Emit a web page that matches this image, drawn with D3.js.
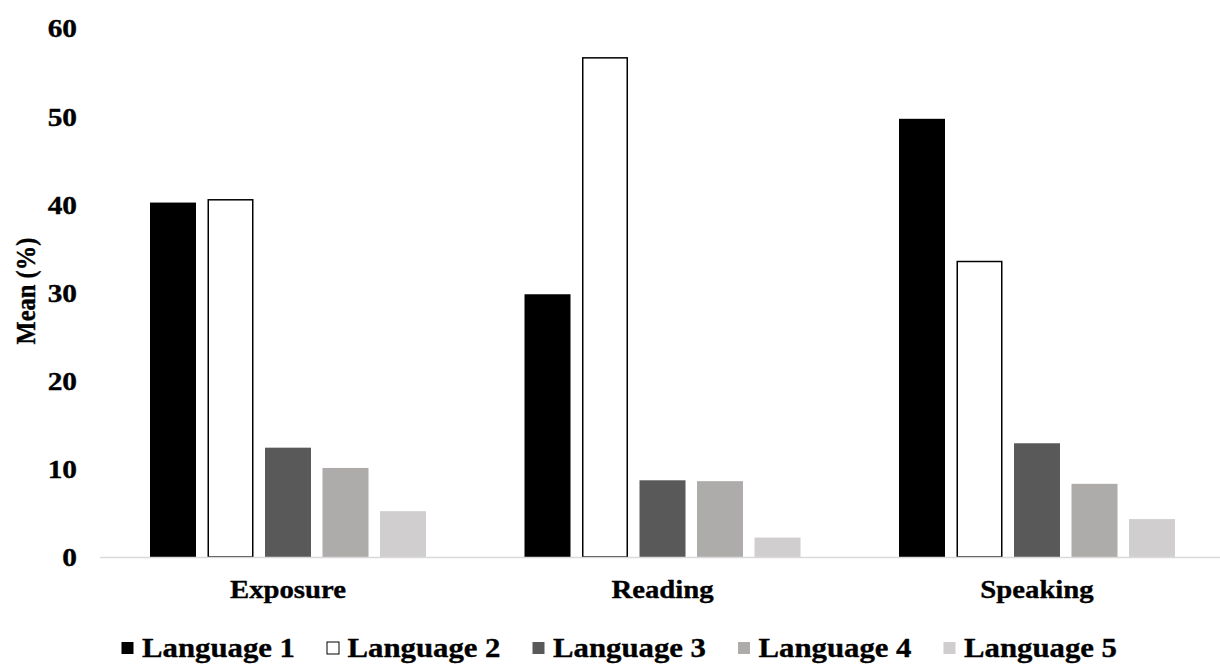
<!DOCTYPE html>
<html>
<head>
<meta charset="utf-8">
<script src="https://cdn.jsdelivr.net/npm/d3@7"></script>
<style>
  html, body { margin: 0; padding: 0; background: #fff; }
  svg { display: block; }
  text { font-family: "Liberation Serif", "Times New Roman", serif; font-weight: bold; fill: #000; stroke: #000; stroke-width: 0.35px; }
</style>
</head>
<body>
<svg id="chart" width="1220" height="664"></svg>
<script>
// Chart data
const categories = ["Exposure", "Reading", "Speaking"];
const seriesNames = ["Language 1", "Language 2", "Language 3", "Language 4", "Language 5"];
const language1 = [40.2, 29.8, 49.7];
const language2 = [40.6, 56.7, 33.6];
const language3 = [12.4, 8.7, 12.9];
const language4 = [10.1, 8.6, 8.3];
const language5 = [5.2, 2.2, 4.3];
const yTicks = [0, 10, 20, 30, 40, 50, 60];
const yLabel = "Mean (%)";

const seriesValues = [language1, language2, language3, language4, language5];
const fills = ["#000000", "#ffffff", "#595959", "#aeabab", "#d0cece"];
const strokes = ["#000000", "#000000", "none", "none", "none"];

const svg = d3.select("#chart");

const x0 = d3.scaleBand().domain(categories).range([100.75, 1224.25])
  .paddingInner(0.263).paddingOuter(0.1315);
const x1 = d3.scaleBand().domain(seriesNames).range([0, x0.bandwidth()])
  .paddingInner(0.2).paddingOuter(0);
const y = d3.scaleLinear().domain([0, 60]).range([557, 28]);

// bars
const groups = svg.append("g").selectAll("g")
  .data(categories)
  .join("g")
  .attr("transform", d => `translate(${x0(d)},0)`);

groups.selectAll("rect")
  .data((c, ci) => seriesNames.map((s, si) => ({ s, si, v: seriesValues[si][ci] })))
  .join("rect")
  .attr("x", d => x1(d.s) + (strokes[d.si] !== "none" ? 0.75 : 0))
  .attr("y", d => y(d.v) + (strokes[d.si] !== "none" ? 0.75 : 0))
  .attr("width", d => x1.bandwidth() - (strokes[d.si] !== "none" ? 1.5 : 0))
  .attr("height", d => y(0) - y(d.v) - (strokes[d.si] !== "none" ? 0.75 : 0))
  .attr("fill", d => fills[d.si])
  .attr("stroke", d => strokes[d.si])
  .attr("stroke-width", 1.5);

// baseline
svg.append("line")
  .attr("x1", 100).attr("x2", 1220)
  .attr("y1", y(0) + 0.5).attr("y2", y(0) + 0.5)
  .attr("stroke", "#d9d9d9").attr("stroke-width", 1.5);

// y axis tick labels
const yAxis = d3.axisLeft(y).tickValues(yTicks).tickSize(0).tickPadding(0);
const yg = svg.append("g").attr("transform", "translate(77,0)").call(yAxis);
yg.select(".domain").remove();
yg.selectAll("text")
  .attr("x", 0).attr("dy", null)
  .attr("dominant-baseline", "central")
  .attr("transform", "scale(1.13,1)")
  .style("font-family", "'Liberation Serif', 'Times New Roman', serif")
  .style("font-weight", "bold")
  .style("font-size", "26px")
  .attr("fill", "#000");

// y axis title
svg.append("text")
  .attr("transform", "translate(35,291) scale(1.15,1) rotate(-90)")
  .attr("text-anchor", "middle")
  .style("font-size", "24.5px")
  .text(yLabel);

// category labels
const xAxis = d3.axisBottom(x0).tickSize(0).tickPadding(0);
const xg = svg.append("g").attr("transform", "translate(0,598)").call(xAxis);
xg.select(".domain").remove();
xg.selectAll(".tick text")
  .attr("y", 0).attr("dy", null)
  .attr("transform", "scale(1.15,1)")
  .style("font-family", "'Liberation Serif', 'Times New Roman', serif")
  .style("font-weight", "bold")
  .style("font-size", "25px")
  .attr("fill", "#000");

// legend
const legend = svg.append("g").selectAll("g")
  .data(seriesNames)
  .join("g")
  .attr("transform", (d, i) => `translate(${121 + i * 205.5},0)`);

legend.append("rect")
  .attr("x", 0.5).attr("y", 642)
  .attr("width", 12).attr("height", 12)
  .attr("fill", (d, i) => fills[i])
  .attr("stroke", (d, i) => i === 1 ? "#000" : "none")
  .attr("stroke-width", 1);

legend.append("text")
  .attr("transform", "translate(21,657) scale(1.14,1)")
  .style("font-size", "27px")
  .text(d => d);
</script>
</body>
</html>
